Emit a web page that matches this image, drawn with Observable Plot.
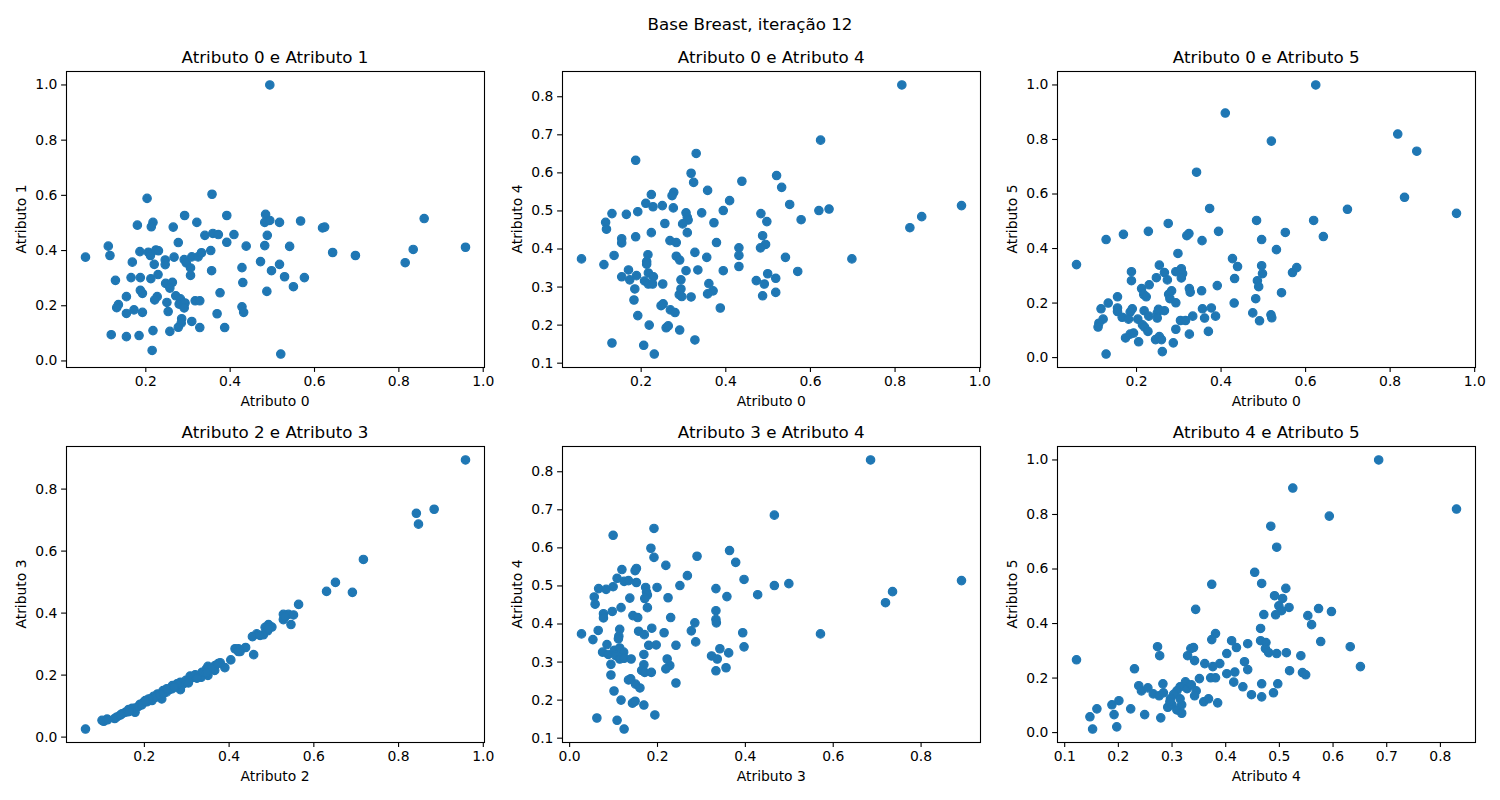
<!DOCTYPE html>
<html><head><meta charset="utf-8">
<script src="https://cdn.jsdelivr.net/npm/d3@7"></script>
<script src="https://cdn.jsdelivr.net/npm/@observablehq/plot@0.6"></script>
<style>
body{margin:0;background:#fff;font-family:"DejaVu Sans",sans-serif;}
#fig{position:relative;width:1500px;height:800px;overflow:hidden;}
.lab{position:absolute;color:#000;white-space:nowrap;line-height:1;font-family:"DejaVu Sans",sans-serif;}
.pan{position:absolute;}
</style></head><body><div id="fig"></div>
<script>
const suptitle = "Base Breast, iteração 12";

// Atributo 0 (x) vs Atributo 1 (y)
const attr0_attr1 = [[0.494,1.0],[0.203,0.589],[0.357,0.604],[0.292,0.527],[0.392,0.527],[0.484,0.531],[0.180,0.492],[0.217,0.502],[0.213,0.486],[0.265,0.485],[0.321,0.502],[0.482,0.502],[0.494,0.509],[0.517,0.502],[0.567,0.507],[0.619,0.482],[0.624,0.485],[0.860,0.516],[0.340,0.455],[0.359,0.462],[0.372,0.458],[0.409,0.458],[0.488,0.455],[0.277,0.429],[0.392,0.430],[0.438,0.416],[0.482,0.418],[0.541,0.415],[0.111,0.416],[0.115,0.382],[0.057,0.376],[0.186,0.396],[0.206,0.394],[0.211,0.382],[0.224,0.402],[0.230,0.399],[0.246,0.366],[0.267,0.376],[0.291,0.367],[0.309,0.377],[0.324,0.377],[0.332,0.392],[0.354,0.400],[0.643,0.393],[0.697,0.382],[0.834,0.404],[0.958,0.412],[0.815,0.356],[0.168,0.358],[0.220,0.350],[0.246,0.349],[0.296,0.355],[0.306,0.337],[0.472,0.360],[0.517,0.350],[0.428,0.338],[0.356,0.327],[0.498,0.327],[0.306,0.310],[0.165,0.302],[0.187,0.302],[0.212,0.298],[0.229,0.313],[0.128,0.292],[0.529,0.305],[0.576,0.302],[0.247,0.281],[0.263,0.285],[0.257,0.264],[0.430,0.284],[0.550,0.269],[0.187,0.256],[0.192,0.245],[0.376,0.247],[0.487,0.252],[0.271,0.236],[0.282,0.225],[0.227,0.233],[0.221,0.221],[0.154,0.233],[0.250,0.212],[0.279,0.206],[0.293,0.210],[0.291,0.192],[0.317,0.218],[0.328,0.218],[0.135,0.204],[0.131,0.193],[0.172,0.185],[0.192,0.176],[0.154,0.172],[0.253,0.179],[0.428,0.196],[0.432,0.176],[0.369,0.171],[0.285,0.153],[0.284,0.137],[0.309,0.143],[0.277,0.122],[0.328,0.121],[0.387,0.121],[0.217,0.110],[0.257,0.107],[0.118,0.095],[0.154,0.088],[0.184,0.092],[0.215,0.038],[0.520,0.025]];

// Atributo 0 (x) vs Atributo 4 (y)
const attr0_attr4 = [[0.816,0.831],[0.624,0.686],[0.187,0.633],[0.330,0.651],[0.318,0.599],[0.324,0.575],[0.438,0.578],[0.520,0.593],[0.532,0.562],[0.357,0.554],[0.277,0.549],[0.273,0.540],[0.224,0.543],[0.211,0.520],[0.228,0.511],[0.250,0.514],[0.276,0.508],[0.409,0.527],[0.551,0.517],[0.131,0.493],[0.165,0.491],[0.192,0.498],[0.306,0.495],[0.309,0.483],[0.311,0.476],[0.298,0.466],[0.343,0.495],[0.394,0.501],[0.483,0.493],[0.497,0.472],[0.578,0.477],[0.620,0.501],[0.644,0.505],[0.957,0.514],[0.863,0.485],[0.835,0.456],[0.116,0.470],[0.118,0.452],[0.256,0.467],[0.372,0.469],[0.224,0.443],[0.309,0.443],[0.487,0.435],[0.154,0.427],[0.154,0.416],[0.187,0.432],[0.268,0.422],[0.283,0.417],[0.378,0.417],[0.494,0.412],[0.482,0.403],[0.431,0.403],[0.059,0.374],[0.112,0.359],[0.136,0.383],[0.216,0.385],[0.213,0.367],[0.213,0.360],[0.283,0.381],[0.291,0.371],[0.327,0.391],[0.355,0.378],[0.431,0.383],[0.541,0.378],[0.698,0.374],[0.431,0.354],[0.170,0.345],[0.154,0.327],[0.173,0.319],[0.189,0.330],[0.217,0.337],[0.229,0.327],[0.208,0.316],[0.217,0.308],[0.227,0.308],[0.251,0.308],[0.306,0.343],[0.334,0.345],[0.394,0.343],[0.294,0.319],[0.294,0.295],[0.290,0.280],[0.296,0.275],[0.318,0.274],[0.360,0.309],[0.370,0.290],[0.357,0.282],[0.472,0.317],[0.491,0.308],[0.499,0.335],[0.518,0.323],[0.518,0.286],[0.487,0.277],[0.570,0.341],[0.185,0.295],[0.183,0.266],[0.247,0.251],[0.252,0.256],[0.269,0.240],[0.280,0.233],[0.387,0.245],[0.192,0.225],[0.219,0.200],[0.259,0.193],[0.264,0.198],[0.291,0.187],[0.327,0.161],[0.131,0.153],[0.206,0.147],[0.231,0.124]];

// Atributo 0 (x) vs Atributo 5 (y)
const attr0_attr5 = [[0.624,1.0],[0.410,0.897],[0.519,0.794],[0.818,0.820],[0.863,0.757],[0.342,0.680],[0.834,0.588],[0.699,0.544],[0.957,0.529],[0.373,0.547],[0.484,0.503],[0.619,0.503],[0.275,0.492],[0.169,0.452],[0.228,0.463],[0.128,0.433],[0.319,0.447],[0.324,0.455],[0.394,0.463],[0.355,0.429],[0.496,0.433],[0.552,0.459],[0.642,0.444],[0.531,0.396],[0.058,0.341],[0.298,0.382],[0.254,0.339],[0.188,0.315],[0.188,0.282],[0.247,0.293],[0.266,0.312],[0.273,0.285],[0.293,0.315],[0.306,0.326],[0.309,0.308],[0.306,0.292],[0.427,0.363],[0.439,0.334],[0.432,0.290],[0.496,0.337],[0.498,0.308],[0.486,0.282],[0.489,0.260],[0.569,0.312],[0.579,0.330],[0.391,0.264],[0.212,0.253],[0.230,0.267],[0.217,0.231],[0.223,0.223],[0.283,0.245],[0.276,0.232],[0.279,0.216],[0.293,0.201],[0.325,0.253],[0.327,0.240],[0.354,0.245],[0.155,0.223],[0.133,0.200],[0.155,0.182],[0.155,0.169],[0.116,0.179],[0.190,0.179],[0.185,0.167],[0.166,0.148],[0.181,0.141],[0.218,0.172],[0.229,0.152],[0.249,0.163],[0.249,0.145],[0.266,0.172],[0.203,0.141],[0.214,0.120],[0.219,0.112],[0.227,0.096],[0.121,0.141],[0.111,0.126],[0.109,0.112],[0.333,0.152],[0.361,0.145],[0.356,0.179],[0.377,0.182],[0.387,0.152],[0.304,0.136],[0.316,0.136],[0.475,0.164],[0.491,0.135],[0.518,0.157],[0.520,0.146],[0.543,0.238],[0.482,0.216],[0.431,0.200],[0.174,0.072],[0.185,0.086],[0.193,0.090],[0.205,0.058],[0.245,0.066],[0.254,0.077],[0.259,0.066],[0.261,0.022],[0.293,0.104],[0.287,0.054],[0.325,0.086],[0.370,0.096],[0.128,0.013],[0.252,0.177]];

// Atributo 2 (x) vs Atributo 3 (y)
const attr2_attr3 = [[0.958,0.894],[0.842,0.722],[0.847,0.687],[0.884,0.735],[0.717,0.573],[0.630,0.470],[0.651,0.499],[0.691,0.467],[0.564,0.428],[0.528,0.396],[0.540,0.396],[0.552,0.394],[0.528,0.379],[0.546,0.363],[0.493,0.363],[0.501,0.355],[0.485,0.354],[0.491,0.343],[0.481,0.330],[0.465,0.333],[0.455,0.324],[0.439,0.289],[0.426,0.276],[0.414,0.285],[0.422,0.285],[0.458,0.266],[0.404,0.249],[0.390,0.224],[0.379,0.240],[0.367,0.231],[0.366,0.215],[0.350,0.228],[0.346,0.219],[0.350,0.199],[0.334,0.193],[0.316,0.193],[0.307,0.188],[0.300,0.177],[0.292,0.172],[0.285,0.177],[0.285,0.153],[0.275,0.164],[0.266,0.166],[0.259,0.153],[0.252,0.145],[0.244,0.150],[0.241,0.123],[0.231,0.139],[0.222,0.132],[0.214,0.123],[0.206,0.114],[0.198,0.112],[0.190,0.106],[0.179,0.094],[0.178,0.080],[0.171,0.093],[0.163,0.089],[0.155,0.080],[0.147,0.075],[0.135,0.065],[0.130,0.060],[0.112,0.058],[0.104,0.051],[0.100,0.054],[0.061,0.026],[0.265,0.156],[0.277,0.172],[0.308,0.197],[0.320,0.201],[0.218,0.118],[0.226,0.128],[0.237,0.136],[0.245,0.142],[0.163,0.082],[0.186,0.099],[0.194,0.104],[0.143,0.071],[0.113,0.056],[0.493,0.350],[0.336,0.209],[0.358,0.222],[0.374,0.237],[0.253,0.156],[0.270,0.161],[0.298,0.183],[0.304,0.175],[0.324,0.190],[0.347,0.207],[0.422,0.276],[0.473,0.328],[0.532,0.388],[0.210,0.123],[0.202,0.118]];

// Atributo 3 (x) vs Atributo 4 (y)
const attr3_attr4 = [[0.685,0.831],[0.466,0.686],[0.099,0.633],[0.192,0.651],[0.185,0.599],[0.192,0.575],[0.290,0.578],[0.364,0.593],[0.378,0.562],[0.219,0.554],[0.152,0.546],[0.149,0.540],[0.119,0.543],[0.108,0.520],[0.124,0.512],[0.134,0.514],[0.152,0.509],[0.268,0.527],[0.397,0.517],[0.066,0.493],[0.083,0.491],[0.099,0.498],[0.173,0.496],[0.175,0.484],[0.177,0.476],[0.171,0.467],[0.199,0.496],[0.251,0.501],[0.333,0.493],[0.358,0.472],[0.428,0.477],[0.466,0.501],[0.499,0.506],[0.892,0.514],[0.735,0.485],[0.719,0.456],[0.056,0.471],[0.058,0.452],[0.137,0.468],[0.224,0.469],[0.117,0.443],[0.177,0.443],[0.333,0.435],[0.077,0.427],[0.077,0.416],[0.097,0.433],[0.144,0.422],[0.155,0.417],[0.230,0.417],[0.333,0.412],[0.334,0.403],[0.285,0.403],[0.027,0.374],[0.053,0.359],[0.065,0.383],[0.114,0.386],[0.112,0.368],[0.111,0.361],[0.157,0.381],[0.170,0.372],[0.187,0.389],[0.215,0.377],[0.277,0.382],[0.394,0.377],[0.571,0.374],[0.287,0.353],[0.085,0.346],[0.075,0.326],[0.088,0.320],[0.102,0.331],[0.114,0.337],[0.123,0.326],[0.105,0.317],[0.114,0.308],[0.124,0.310],[0.140,0.308],[0.180,0.344],[0.197,0.345],[0.242,0.344],[0.169,0.320],[0.169,0.293],[0.164,0.278],[0.171,0.273],[0.186,0.273],[0.222,0.308],[0.228,0.291],[0.219,0.282],[0.323,0.316],[0.336,0.308],[0.342,0.335],[0.362,0.324],[0.333,0.277],[0.356,0.285],[0.397,0.340],[0.094,0.294],[0.094,0.266],[0.134,0.253],[0.139,0.256],[0.150,0.242],[0.160,0.232],[0.242,0.245],[0.101,0.224],[0.117,0.200],[0.143,0.192],[0.149,0.197],[0.169,0.187],[0.194,0.161],[0.062,0.153],[0.108,0.147],[0.124,0.124]];

// Atributo 4 (x) vs Atributo 5 (y)
const attr4_attr5 = [[0.685,1.0],[0.525,0.897],[0.830,0.820],[0.593,0.794],[0.484,0.757],[0.495,0.680],[0.454,0.588],[0.374,0.544],[0.467,0.547],[0.512,0.529],[0.491,0.502],[0.506,0.492],[0.499,0.465],[0.518,0.459],[0.504,0.447],[0.493,0.432],[0.471,0.433],[0.344,0.452],[0.573,0.455],[0.597,0.444],[0.553,0.429],[0.560,0.396],[0.465,0.382],[0.381,0.363],[0.374,0.341],[0.411,0.337],[0.465,0.337],[0.475,0.330],[0.577,0.334],[0.632,0.315],[0.273,0.315],[0.277,0.282],[0.335,0.308],[0.340,0.312],[0.329,0.282],[0.342,0.264],[0.420,0.312],[0.441,0.326],[0.474,0.308],[0.480,0.293],[0.495,0.290],[0.513,0.293],[0.540,0.282],[0.402,0.290],[0.361,0.253],[0.376,0.242],[0.389,0.253],[0.435,0.260],[0.441,0.231],[0.651,0.242],[0.122,0.267],[0.230,0.234],[0.351,0.198],[0.372,0.201],[0.381,0.201],[0.402,0.216],[0.417,0.222],[0.415,0.185],[0.432,0.168],[0.467,0.179],[0.497,0.179],[0.519,0.227],[0.543,0.220],[0.549,0.212],[0.238,0.172],[0.243,0.153],[0.255,0.164],[0.265,0.142],[0.276,0.135],[0.283,0.179],[0.284,0.146],[0.325,0.186],[0.315,0.168],[0.309,0.153],[0.303,0.140],[0.297,0.124],[0.292,0.093],[0.300,0.102],[0.309,0.083],[0.318,0.102],[0.318,0.071],[0.328,0.161],[0.336,0.175],[0.345,0.153],[0.342,0.135],[0.359,0.113],[0.368,0.124],[0.385,0.109],[0.448,0.139],[0.467,0.131],[0.489,0.146],[0.160,0.087],[0.147,0.058],[0.152,0.013],[0.188,0.102],[0.201,0.117],[0.192,0.066],[0.197,0.021],[0.223,0.087],[0.249,0.066],[0.279,0.054],[0.296,0.113],[0.315,0.124]];

// Tick values
const ticks0to1 = [0.0, 0.2, 0.4, 0.6, 0.8, 1.0];
const ticks01to08 = [0.1, 0.2, 0.3, 0.4, 0.5, 0.6, 0.7, 0.8];
const ticks0to08 = [0.0, 0.2, 0.4, 0.6, 0.8];

const panels = [
  {data: attr0_attr1, title: "Atributo 0 e Atributo 1", xl: "Atributo 0", yl: "Atributo 1", col: 0, row: 0, xt: ticks0to1, yt: ticks0to1},
  {data: attr0_attr4, title: "Atributo 0 e Atributo 4", xl: "Atributo 0", yl: "Atributo 4", col: 1, row: 0, xt: ticks0to1, yt: ticks01to08},
  {data: attr0_attr5, title: "Atributo 0 e Atributo 5", xl: "Atributo 0", yl: "Atributo 5", col: 2, row: 0, xt: ticks0to1, yt: ticks0to1},
  {data: attr2_attr3, title: "Atributo 2 e Atributo 3", xl: "Atributo 2", yl: "Atributo 3", col: 0, row: 1, xt: ticks0to1, yt: ticks0to08},
  {data: attr3_attr4, title: "Atributo 3 e Atributo 4", xl: "Atributo 3", yl: "Atributo 4", col: 1, row: 1, xt: ticks0to08, yt: ticks01to08},
  {data: attr4_attr5, title: "Atributo 4 e Atributo 5", xl: "Atributo 4", yl: "Atributo 5", col: 2, row: 1, xt: ticks01to08, yt: ticks0to1}
];

const colLeft = [66, 562.3, 1057.3];
const rowTop = [70.5, 446.3];
const W = 418, H = 296;
const mL = 60, mR = 15, mT = 10, mB = 40;
const fig = document.getElementById("fig");
const fmt = d3.format(".1f");

function addLabel(text, x, y, size, rotate) {
  const d = document.createElement("div");
  d.className = "lab";
  d.textContent = text;
  d.style.left = x + "px";
  d.style.top = y + "px";
  d.style.fontSize = size + "px";
  d.style.transform = "translate(-50%,-50%)" + (rotate ? " rotate(-90deg)" : "");
  fig.appendChild(d);
}
function padded(vals) {
  const [a, b] = d3.extent(vals);
  const r = b - a;
  return [a - 0.05 * r, b + 0.05 * r];
}

addLabel(suptitle, 750, 24, 16.7, false);

for (const p of panels) {
  const left = colLeft[p.col], top = rowTop[p.row];
  const xd = padded(p.data.map(d => d[0]));
  const yd = padded(p.data.map(d => d[1]));
  const xt = p.xt.filter(t => t >= xd[0] - 1e-9 && t <= xd[1] + 1e-9);
  const yt = p.yt.filter(t => t >= yd[0] - 1e-9 && t <= yd[1] + 1e-9);
  const svg = Plot.plot({
    width: W + mL + mR, height: H + mT + mB,
    marginLeft: mL, marginRight: mR, marginTop: mT, marginBottom: mB,
    style: {fontFamily: "DejaVu Sans", fontSize: "13.9px", color: "#000", background: "transparent", overflow: "visible"},
    x: {domain: xd},
    y: {domain: yd},
    marks: [
      Plot.axisX(xt, {tickSize: 4.9, tickPadding: 4.2, tickFormat: fmt, label: null, fontSize: 13.9, stroke: "#000", strokeWidth: 1.1}),
      Plot.axisY(yt, {tickSize: 4.9, tickPadding: 4.2, tickFormat: fmt, label: null, fontSize: 13.9, stroke: "#000", strokeWidth: 1.1}),
      Plot.dot(p.data, {x: d => d[0], y: d => d[1], r: 4.2, fill: "#1f77b4", stroke: "#1f77b4", strokeWidth: 1.2}),
      Plot.frame({stroke: "#000", strokeWidth: 1.1})
    ]
  });
  const wrap = document.createElement("div");
  wrap.className = "pan";
  wrap.style.left = (left - mL) + "px";
  wrap.style.top = (top - mT) + "px";
  wrap.appendChild(svg);
  fig.appendChild(wrap);
  addLabel(p.title, left + W / 2, top - 14, 16.7, false);
  addLabel(p.xl, left + W / 2, top + H + 35, 13.9, false);
  addLabel(p.yl, left - 44, top + H / 2, 13.9, true);
}
</script></body></html>
